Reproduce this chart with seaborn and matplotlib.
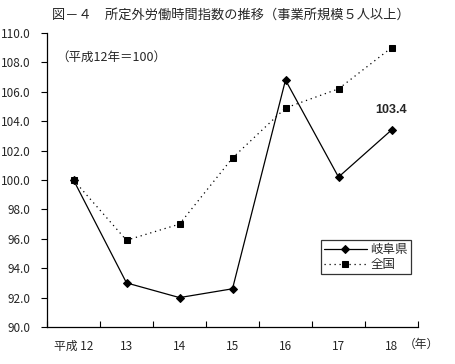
import matplotlib
matplotlib.use("Agg")
import matplotlib.pyplot as plt
import seaborn as sns
import pandas as pd

years = ["平成 12", "13", "14", "15", "16", "17", "18"]
gifu = [100.0, 93.0, 92.0, 92.6, 106.8, 100.2, 103.4]
zenkoku = [100.0, 95.9, 97.0, 101.5, 104.9, 106.2, 109.0]
yticks = [90.0, 92.0, 94.0, 96.0, 98.0, 100.0, 102.0, 104.0, 106.0, 108.0, 110.0]

sns.set_theme(style="white")
plt.rcParams['font.family'] = ['Noto Sans CJK JP', 'DejaVu Sans']

df = pd.DataFrame({
    "x": list(range(len(years))) * 2,
    "value": gifu + zenkoku,
    "series": ["岐阜県"] * len(years) + ["全国"] * len(years),
})

fig = plt.figure(figsize=(4.56, 3.64), dpi=100)
ax = fig.add_axes([47/456, 1-327/364, (418-47)/456, (327-33)/364])

sns.lineplot(data=df, x="x", y="value", hue="series", style="series",
             palette={"岐阜県": "black", "全国": "black"},
             markers={"岐阜県": "D", "全国": "s"},
             dashes={"岐阜県": "", "全国": (1, 3)},
             markersize=5, linewidth=0.9, markeredgecolor="black",
             ax=ax, legend=True)
for l in ax.get_lines():
    if l.get_marker() == "D":
        l.set_markersize(4.5)

ax.set_xlim(-0.5, len(years) - 0.5)
ax.set_ylim(90, 110)
ax.set_yticks(yticks)
ax.set_yticklabels([f"{v:.1f}" for v in yticks], fontsize=8.5)
ax.set_xticks([i - 0.5 for i in range(len(years) + 1)], minor=False)
ax.set_xticklabels([])
ax.set_xticks(range(len(years)), minor=True)
ax.set_xticklabels(years, minor=True, fontsize=8.5)
ax.tick_params(axis="x", which="major", direction="in", length=4, width=0.8, color="black", bottom=True)
ax.tick_params(axis="x", which="minor", length=0, pad=9)
ax.tick_params(axis="y", direction="out", length=4, width=0.8, color="black", left=True, pad=8)
ax.set_xlabel("")
ax.set_ylabel("")
for s in ["top", "right"]:
    ax.spines[s].set_visible(False)
for s in ["left", "bottom"]:
    ax.spines[s].set_color("black")
    ax.spines[s].set_linewidth(0.9)

ax.text(6.2, 344, "（年）", transform=ax.get_xaxis_transform() if False else ax.transData, fontsize=8.5,
        ha="left", va="center", alpha=0)
fig.text(404/456, 1-344/364, "（年）", fontsize=8.5, ha="left", va="center")
ax.annotate(f"{gifu[-1]:.1f}", (6, gifu[-1]), xytext=(0, 10), textcoords="offset points",
            ha="center", va="bottom", fontsize=9, fontweight="bold", family=["Liberation Sans", "DejaVu Sans"])

fig.text(52/456, 1-15/364, "図－４　所定外労働時間指数の推移（事業所規模５人以上）",
         fontsize=9.5, ha="left", va="center")
fig.text(56/456, 1-57/364, "（平成12年＝100）", fontsize=9, ha="left", va="center")

leg = ax.legend(loc="upper left", bbox_to_anchor=((321-47)/371, 1-(240-33)/294),
                frameon=True, fontsize=9, handlelength=3.4, handletextpad=0.3,
                borderpad=0.25, labelspacing=0.15, fancybox=False, borderaxespad=0)
leg.get_frame().set_edgecolor("black")
leg.get_frame().set_linewidth(0.9)

fig.savefig("out.png", dpi=100, facecolor="white")
